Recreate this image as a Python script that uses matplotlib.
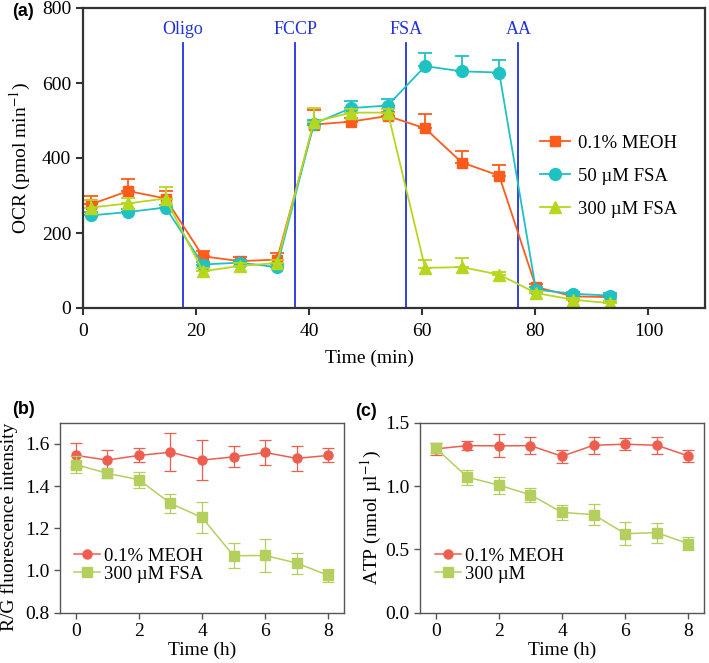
import matplotlib
matplotlib.use("Agg")
import matplotlib.pyplot as plt
import numpy as np

plt.rcParams["font.family"] = ["Liberation Serif", "DejaVu Serif"]
plt.rcParams["mathtext.fontset"] = "stix"

# ---------------------------------------------------------------------------
# Panel (a): OCR time course
# ---------------------------------------------------------------------------
ocr_time = [1.5, 8.0, 14.6, 21.2, 27.7, 34.3, 40.8, 47.4, 53.9, 60.5, 67.0, 73.6, 80.1, 86.7, 93.2]
ocr_meoh = [277, 312, 292, 138, 125, 129, 489, 497, 512, 479, 388, 353, 56, 31, 29]
ocr_meoh_err = [22, 32, 20, 15, 12, 18, 40, 10, 10, 39, 30, 28, 8, 6, 6]
ocr_fsa50 = [247, 256, 268, 116, 121, 109, 491, 533, 540, 645, 631, 628, 49, 38, 33]
ocr_fsa50_err = [8, 8, 8, 8, 8, 8, 10, 18, 18, 35, 41, 34, 6, 6, 6]
ocr_fsa300 = [268, 279, 292, 98, 112, 120, 496, 521, 521, 107, 109, 89, 40, 22, 13]
ocr_fsa300_err = [20, 15, 31, 8, 8, 8, 38, 10, 10, 20, 24, 6, 6, 5, 5]

inject_time = [17.6, 37.5, 57.2, 77.0]
inject_labels = ["Oligo", "FCCP", "FSA", "AA"]

# ---------------------------------------------------------------------------
# Panels (b), (c): hourly measurements
# ---------------------------------------------------------------------------
hours = [0, 1, 2, 3, 4, 5, 6, 7, 8]
rg_meoh = [1.545, 1.523, 1.545, 1.560, 1.523, 1.538, 1.559, 1.531, 1.545]
rg_meoh_err = [0.057, 0.050, 0.033, 0.089, 0.094, 0.050, 0.058, 0.060, 0.033]
rg_fsa = [1.502, 1.460, 1.430, 1.318, 1.251, 1.070, 1.071, 1.035, 0.977]
rg_fsa_err = [0.040, 0.020, 0.037, 0.044, 0.074, 0.058, 0.080, 0.050, 0.030]

atp_meoh = [1.293, 1.319, 1.317, 1.319, 1.235, 1.322, 1.330, 1.322, 1.238]
atp_meoh_err = [0.050, 0.035, 0.090, 0.070, 0.050, 0.068, 0.047, 0.068, 0.047]
atp_fsa = [1.300, 1.070, 1.007, 0.931, 0.792, 0.774, 0.624, 0.632, 0.545]
atp_fsa_err = [0.040, 0.058, 0.068, 0.055, 0.058, 0.081, 0.089, 0.079, 0.050]

COL_ORANGE = "#FF5B1C"
COL_CYAN = "#1FC2C2"
COL_YELLOW = "#B6D71E"
COL_RED = "#EE5E4E"
COL_GREEN = "#B4CF5E"
COL_BLUE = "#2233DD"

FS = 14

fig = plt.figure(figsize=(7.09, 6.63), dpi=100)

# ── (a) ────────────────────────────────────────────────────────────────────
ax_a = fig.add_axes([83 / 709, 1 - 308 / 663, 622 / 709, 300 / 663])
series_a = [
    (ocr_meoh, ocr_meoh_err, COL_ORANGE, "s", 7.5, "0.1% MEOH"),
    (ocr_fsa50, ocr_fsa50_err, COL_CYAN, "o", 8.5, "50 \u00b5M FSA"),
    (ocr_fsa300, ocr_fsa300_err, COL_YELLOW, "^", 8.5, "300 \u00b5M FSA"),
]
for vals, err, col, mk, ms, lab in series_a:
    ax_a.errorbar(ocr_time, vals, yerr=[np.zeros(len(err)), err], fmt="none",
                  ecolor=col, capsize=5, capthick=1.3, elinewidth=1.3)
    ax_a.plot(ocr_time, vals, color=col, marker=mk, ms=ms, lw=1.3, label=lab)
for xt, lab in zip(inject_time, inject_labels):
    ax_a.plot([xt, xt], [0, 708], color=COL_BLUE, lw=1.3, zorder=1)
    ax_a.text(xt, 742, lab, color=COL_BLUE, ha="center", va="center", fontsize=13)
ax_a.set_xlim(0, 110)
ax_a.set_ylim(0, 800)
ax_a.set_xticks([0, 20, 40, 60, 80, 100])
ax_a.set_yticks([0, 200, 400, 600, 800])
ax_a.tick_params(labelsize=FS, width=1.5, length=5, color="#333333")
ax_a.tick_params(axis="x", pad=6)
for sp in ax_a.spines.values():
    sp.set_linewidth(1.6)
    sp.set_color("#333333")
ax_a.set_ylabel("OCR (pmol min$^{-1}$)", fontsize=FS, labelpad=6)
ax_a.set_xlabel("Time (min)", fontsize=FS)
ax_a.xaxis.set_label_coords(0.46, -0.14)
ax_a.legend(loc="center left", bbox_to_anchor=(0.723, 0.44), frameon=False,
            borderaxespad=0, fontsize=13.5, handlelength=1.6,
            handletextpad=0.4, labelspacing=0.85)
fig.text(12 / 709, 1 - 12 / 663, "(a)", fontsize=13, fontweight="bold",
         family=["Liberation Sans"], va="center", ha="left")

# ── (b) and (c) ────────────────────────────────────────────────────────────
ax_b = fig.add_axes([60 / 709, 1 - 612.7 / 663, 284 / 709, 190 / 663])
ax_c = fig.add_axes([420 / 709, 1 - 612.7 / 663, 284 / 709, 190 / 663])

panels = [
    (ax_b, rg_meoh, rg_meoh_err, rg_fsa, rg_fsa_err, "300 \u00b5M FSA",
     (0.8, 1.7), [0.8, 1.0, 1.2, 1.4, 1.6], "R/G fluorescence intensity", 0.023),
    (ax_c, atp_meoh, atp_meoh_err, atp_fsa, atp_fsa_err, "300 \u00b5M",
     (0.0, 1.5), [0.0, 0.5, 1.0, 1.5], "ATP (nmol \u00b5l$^{-1}$)", 0.026),
]
for ax, m, me, f, fe, flab, ylim, yt, ylab, legx in panels:
    for vals, err, col, mk, lab in [(m, me, COL_RED, "o", "0.1% MEOH"),
                                    (f, fe, COL_GREEN, "s", flab)]:
        ax.errorbar(hours, vals, yerr=err, fmt="none", ecolor=col, capsize=4,
                    elinewidth=0.9, capthick=0.9)
        ax.plot(hours, vals, color=col, marker=mk, ms=6.5, lw=1.1, label=lab)
    ax.set_xlim(-0.5, 8.5)
    ax.set_ylim(*ylim)
    ax.set_xticks([0, 2, 4, 6, 8])
    ax.set_yticks(yt)
    ax.yaxis.set_major_formatter(matplotlib.ticker.FormatStrFormatter("%.1f"))
    ax.tick_params(labelsize=FS, width=1.0, length=4, color="#555555")
    for sp in ax.spines.values():
        sp.set_linewidth(1.0)
        sp.set_color("#555555")
    ax.set_xlabel("Time (h)", fontsize=FS, labelpad=1)
    ax.set_ylabel(ylab, fontsize=FS, labelpad=1)
    ax.legend(loc="center left", bbox_to_anchor=(legx, 0.25), frameon=False,
              borderaxespad=0, fontsize=13.5, handlelength=1.4,
              handletextpad=0.2, labelspacing=0.05)

ax_b.yaxis.set_label_coords(-0.148, 0.45)

fig.text(12 / 709, 1 - 410 / 663, "(b)", fontsize=13, fontweight="bold",
         family=["Liberation Sans"], va="center", ha="left")
fig.text(355 / 709, 1 - 412 / 663, "(c)", fontsize=13, fontweight="bold",
         family=["Liberation Sans"], va="center", ha="left")

fig.savefig("out.png", dpi=100)
